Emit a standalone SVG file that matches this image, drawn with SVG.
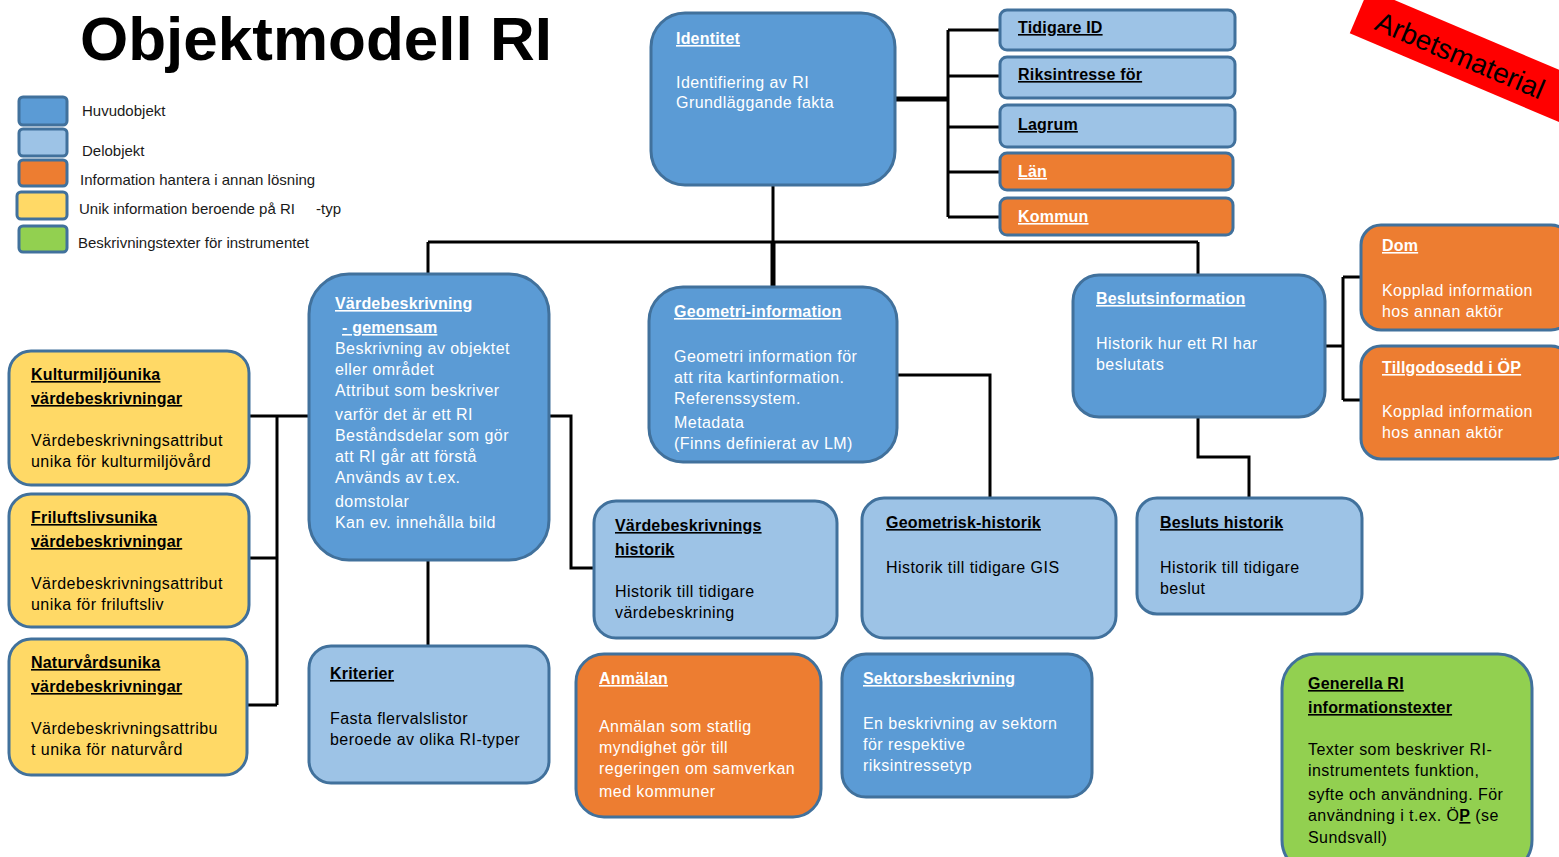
<svg xmlns="http://www.w3.org/2000/svg" width="1559" height="857" viewBox="0 0 1559 857">
<style>
.box{stroke:#41719C;stroke-width:3}
.main{fill:#5B9BD5}
.sub{fill:#9DC3E6}
.ext{fill:#ED7D31}
.uniq{fill:#FFD966}
.gen{fill:#92D050}
text{font-family:"Liberation Sans",Arial,sans-serif}
.t{font-size:16px;font-weight:bold;text-decoration:underline;letter-spacing:0.2px}
.b{font-size:16px;letter-spacing:0.45px}
.w{fill:#ffffff}
.k{fill:#000000}
.leg{font-size:15px;fill:#1a1a1a}
.ln{fill:none;stroke:#000;stroke-width:3}
.thick{fill:none;stroke:#000;stroke-width:5}
</style>
<rect width="1559" height="857" fill="#ffffff"/>

<text x="80" y="60" font-size="62" font-weight="bold" fill="#000">Objektmodell RI</text>

<g id="legend">
<rect class="box main" x="19" y="97" width="48" height="28" rx="4"/>
<rect class="box sub" x="19" y="129" width="48" height="27" rx="4"/>
<rect class="box ext" x="19" y="160" width="48" height="26" rx="4"/>
<rect class="box uniq" x="17" y="192" width="50" height="27" rx="4"/>
<rect class="box gen" x="19" y="226" width="48" height="26" rx="4"/>
<text class="leg" x="82" y="116">Huvudobjekt</text>
<text class="leg" x="82" y="156">Delobjekt</text>
<text class="leg" x="80" y="185">Information hantera i annan lösning</text>
<text class="leg" x="79" y="214">Unik information beroende på RI</text>
<text class="leg" x="316" y="214">-typ</text>
<text class="leg" x="78" y="248">Beskrivningstexter för instrumentet</text>
</g>

<g id="connectors">
<path class="thick" d="M895,99 H948"/>
<path class="ln" d="M948,30 V217 M948,30 H1000 M948,76 H1000 M948,127 H1000 M948,172 H1000 M948,217 H1000"/>
<path class="ln" d="M773,185 V242 M428,242 H1198 M428,242 V274 M1198,242 V275"/>
<path class="thick" d="M773,242 V288"/>
<path class="ln" d="M309,416 H249 M277,416 V705 M249,558 H277 M247,705 H277"/>
<path class="ln" d="M549,416 H571 V568 H596"/>
<path class="ln" d="M428,560 V646"/>
<path class="ln" d="M897,375 H990 V498"/>
<path class="ln" d="M1198,417 V457 H1249 V498"/>
<path class="ln" d="M1325,346 H1343 M1343,277 V400 M1343,277 H1362 M1343,400 H1362"/>
</g>

<g id="identitet">
<rect class="box main" x="651" y="13" width="244" height="172" rx="34"/>
<text class="t w" x="676" y="44">Identitet</text>
<text class="b w" x="676" y="88">Identifiering av RI</text>
<text class="b w" x="676" y="108">Grundläggande fakta</text>
</g>

<g id="tidigare-id">
<rect class="box sub" x="1000" y="10" width="235" height="40" rx="7"/>
<text class="t k" x="1018" y="33">Tidigare ID</text>
</g>
<g id="riksintresse-for">
<rect class="box sub" x="1000" y="57" width="235" height="41" rx="7"/>
<text class="t k" x="1018" y="80">Riksintresse för</text>
</g>
<g id="lagrum">
<rect class="box sub" x="1000" y="105" width="235" height="42" rx="7"/>
<text class="t k" x="1018" y="130">Lagrum</text>
</g>
<g id="lan">
<rect class="box ext" x="1000" y="153" width="233" height="37" rx="7"/>
<text class="t w" x="1018" y="177">Län</text>
</g>
<g id="kommun">
<rect class="box ext" x="1000" y="198" width="233" height="37" rx="7"/>
<text class="t w" x="1018" y="222">Kommun</text>
</g>

<g id="arbetsmaterial">
<g transform="translate(1460,55) rotate(23)">
<rect x="-110" y="-25" width="260" height="48" fill="#FF0000"/>
<text x="-90" y="10" font-size="28" fill="#000">Arbetsmaterial</text>
</g>
</g>

<g id="vardebeskrivning">
<rect class="box main" x="309" y="274" width="240" height="286" rx="40"/>
<text class="t w" x="335" y="309">Värdebeskrivning</text>
<text class="t w" x="342" y="333">- gemensam</text>
<text class="b w" x="335" y="354">Beskrivning av objektet</text>
<text class="b w" x="335" y="375">eller området</text>
<text class="b w" x="335" y="396">Attribut som beskriver</text>
<text class="b w" x="335" y="420">varför det är ett RI</text>
<text class="b w" x="335" y="441">Beståndsdelar som gör</text>
<text class="b w" x="335" y="462">att RI går att förstå</text>
<text class="b w" x="335" y="483">Används av t.ex.</text>
<text class="b w" x="335" y="507">domstolar</text>
<text class="b w" x="335" y="528">Kan ev. innehålla bild</text>
</g>

<g id="geometri-information">
<rect class="box main" x="649" y="287" width="248" height="175" rx="34"/>
<text class="t w" x="674" y="317">Geometri-information</text>
<text class="b w" x="674" y="362">Geometri information för</text>
<text class="b w" x="674" y="383">att rita kartinformation.</text>
<text class="b w" x="674" y="404">Referenssystem.</text>
<text class="b w" x="674" y="428">Metadata</text>
<text class="b w" x="674" y="449">(Finns definierat av LM)</text>
</g>

<g id="beslutsinformation">
<rect class="box main" x="1073" y="275" width="252" height="142" rx="26"/>
<text class="t w" x="1096" y="304">Beslutsinformation</text>
<text class="b w" x="1096" y="349">Historik hur ett RI har</text>
<text class="b w" x="1096" y="370">beslutats</text>
</g>

<g id="dom">
<rect class="box ext" x="1361" y="225" width="210" height="105" rx="20"/>
<text class="t w" x="1382" y="251">Dom</text>
<text class="b w" x="1382" y="296">Kopplad information</text>
<text class="b w" x="1382" y="317">hos annan aktör</text>
</g>

<g id="tillgodosedd">
<rect class="box ext" x="1361" y="346" width="210" height="113" rx="20"/>
<text class="t w" x="1382" y="373">Tillgodosedd i ÖP</text>
<text class="b w" x="1382" y="417">Kopplad information</text>
<text class="b w" x="1382" y="438">hos annan aktör</text>
</g>

<g id="kulturmiljo">
<rect class="box uniq" x="9" y="351" width="240" height="134" rx="22"/>
<text class="t k" x="31" y="380">Kulturmiljöunika</text>
<text class="t k" x="31" y="404">värdebeskrivningar</text>
<text class="b k" x="31" y="446">Värdebeskrivningsattribut</text>
<text class="b k" x="31" y="467">unika för kulturmiljövård</text>
</g>

<g id="friluftsliv">
<rect class="box uniq" x="9" y="494" width="240" height="133" rx="22"/>
<text class="t k" x="31" y="523">Friluftslivsunika</text>
<text class="t k" x="31" y="547">värdebeskrivningar</text>
<text class="b k" x="31" y="589">Värdebeskrivningsattribut</text>
<text class="b k" x="31" y="610">unika för friluftsliv</text>
</g>

<g id="naturvard">
<rect class="box uniq" x="9" y="639" width="238" height="136" rx="22"/>
<text class="t k" x="31" y="668">Naturvårdsunika</text>
<text class="t k" x="31" y="692">värdebeskrivningar</text>
<text class="b k" x="31" y="734">Värdebeskrivningsattribu</text>
<text class="b k" x="31" y="755">t unika för naturvård</text>
</g>

<g id="vardebeskrivnings-historik">
<rect class="box sub" x="594" y="501" width="243" height="137" rx="22"/>
<text class="t k" x="615" y="531">Värdebeskrivnings</text>
<text class="t k" x="615" y="555">historik</text>
<text class="b k" x="615" y="597">Historik till tidigare</text>
<text class="b k" x="615" y="618">värdebeskrining</text>
</g>

<g id="geometrisk-historik">
<rect class="box sub" x="862" y="498" width="254" height="140" rx="22"/>
<text class="t k" x="886" y="528">Geometrisk-historik</text>
<text class="b k" x="886" y="573">Historik till tidigare GIS</text>
</g>

<g id="besluts-historik">
<rect class="box sub" x="1137" y="498" width="225" height="116" rx="20"/>
<text class="t k" x="1160" y="528">Besluts historik</text>
<text class="b k" x="1160" y="573">Historik till tidigare</text>
<text class="b k" x="1160" y="594">beslut</text>
</g>

<g id="kriterier">
<rect class="box sub" x="309" y="646" width="240" height="137" rx="22"/>
<text class="t k" x="330" y="679">Kriterier</text>
<text class="b k" x="330" y="724">Fasta flervalslistor</text>
<text class="b k" x="330" y="745">beroede av olika RI-typer</text>
</g>

<g id="anmalan">
<rect class="box ext" x="576" y="654" width="245" height="163" rx="28"/>
<text class="t w" x="599" y="684">Anmälan</text>
<text class="b w" x="599" y="732">Anmälan som statlig</text>
<text class="b w" x="599" y="753">myndighet gör till</text>
<text class="b w" x="599" y="774">regeringen om samverkan</text>
<text class="b w" x="599" y="797">med kommuner</text>
</g>

<g id="sektorsbeskrivning">
<rect class="box main" x="842" y="654" width="250" height="143" rx="24"/>
<text class="t w" x="863" y="684">Sektorsbeskrivning</text>
<text class="b w" x="863" y="729">En beskrivning av sektorn</text>
<text class="b w" x="863" y="750">för respektive</text>
<text class="b w" x="863" y="771">riksintressetyp</text>
</g>

<g id="generella">
<rect class="box gen" x="1282" y="654" width="250" height="220" rx="34"/>
<text class="t k" x="1308" y="689">Generella RI</text>
<text class="t k" x="1308" y="713">informationstexter</text>
<text class="b k" x="1308" y="755">Texter som beskriver RI-</text>
<text class="b k" x="1308" y="776">instrumentets funktion,</text>
<text class="b k" x="1308" y="800">syfte och användning. För</text>
<text class="b k" x="1308" y="821">användning i t.ex. Ö<tspan text-decoration="underline" font-weight="bold">P</tspan> (se</text>
<text class="b k" x="1308" y="843">Sundsvall)</text>
</g>
</svg>
